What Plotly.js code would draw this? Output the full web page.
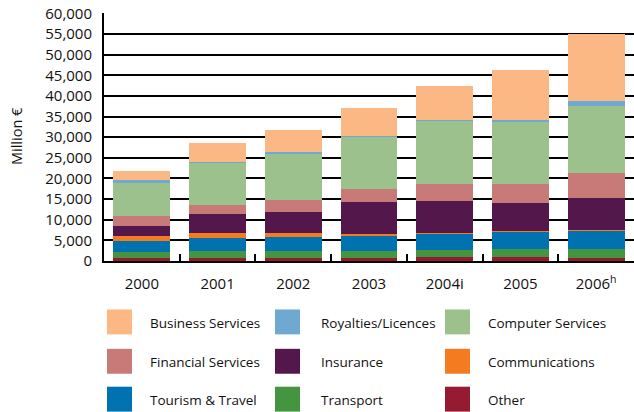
<!DOCTYPE html>
<html>
<head>
<meta charset="utf-8">
<script src="https://cdn.plot.ly/plotly-3.0.1.min.js"></script>
<style>body{margin:0;background:#fff}</style>
</head>
<body>
<div id="chart" style="width:634px;height:412px"></div>
<script>
var years = ["2000", "2001", "2002", "2003", "2004i", "2005", "2006<sup>h</sup>"];

// stacked bottom to top, million euro
var other      = [750, 750, 800, 750, 900, 900, 750];
var transport  = [1350, 1600, 1700, 1750, 1850, 2090, 2240];
var tourism    = [2800, 3130, 3220, 3450, 3690, 3930, 4260];
var comms      = [1050, 1220, 1130, 580, 330, 330, 320];
var insurance  = [2650, 4800, 5100, 7720, 7730, 6750, 7760];
var financial  = [2270, 2180, 2850, 3280, 4240, 4740, 5960];
var computer   = [8130, 9970, 11170, 12540, 15190, 15040, 16390];
var royalties  = [630, 250, 330, 230, 330, 480, 1040];
var business   = [2170, 4730, 5380, 6860, 8200, 11970, 16250];

var seriesNames = ["Other", "Transport", "Tourism & Travel", "Communications", "Insurance",
                   "Financial Services", "Computer Services", "Royalties/Licences", "Business Services"];
var seriesData = [other, transport, tourism, comms, insurance, financial, computer, royalties, business];
var colors = ["#961b32", "#43963f", "#0072b0", "#f47b20", "#53174b",
              "#c77a77", "#9dc18d", "#6fa8d0", "#fbb884"];

var font = "Open Sans, Noto Sans, sans-serif";

var traces = seriesNames.map(function (name, i) {
  return {
    type: "bar",
    name: name,
    x: years,
    y: seriesData[i],
    marker: {color: colors[i], line: {width: 0}},
    showlegend: false,
    hoverinfo: "name+y"
  };
});

// legend drawn by hand: 3 columns, big square swatches
var W = 634, H = 412, ml = 104, mr = 0, mt = 12.6, mb = 150.6;
var pw = W - ml - mr, ph = H - mt - mb;
function px(x) { return (x - ml) / pw; }
function py(y) { return (H - mb - y) / ph; }

var swatchX = [107, 275, 445];
var textX = [148, 319, 486];
var rowY = [322.5, 362, 400];
var shapes = [], annotations = [];
for (var k = 0; k < seriesNames.length; k++) {
  var idx = seriesNames.length - 1 - k;
  var c = k % 3, r = Math.floor(k / 3);
  shapes.push({
    type: "rect", xref: "paper", yref: "paper",
    x0: px(swatchX[c]), x1: px(swatchX[c] + 25),
    y0: py(rowY[r] - 12.5), y1: py(rowY[r] + 12.5),
    fillcolor: colors[idx], line: {width: 0}
  });
  annotations.push({
    xref: "paper", yref: "paper",
    x: px(textX[c]), y: py(rowY[r] + 1),
    xanchor: "left", yanchor: "middle",
    text: seriesNames[idx], showarrow: false,
    font: {family: font, size: 13.5, color: "#111"}
  });
}

// y axis title, placed by hand further left
annotations.push({
  xref: "paper", yref: "paper",
  x: px(16), y: py(136),
  xanchor: "center", yanchor: "middle",
  textangle: -90,
  text: "Million €", showarrow: false,
  font: {family: font, size: 14.5, color: "#111"}
});

var layout = {
  width: W, height: H,
  margin: {l: ml, r: mr, t: mt, b: mb},
  barmode: "stack",
  bargap: 0.25,
  paper_bgcolor: "#ffffff",
  plot_bgcolor: "#ffffff",
  font: {family: font, size: 14, color: "#111"},
  xaxis: {
    type: "category",
    showline: true, linecolor: "#000", linewidth: 2,
    ticks: "inside", tickson: "boundaries", ticklen: 7, tickwidth: 2, tickcolor: "#000",
    ticklabelstandoff: 8,
    tickfont: {family: font, size: 15, color: "#111"},
    showgrid: false
  },
  yaxis: {
    range: [0, 60100],
    tickvals: [0, 5000, 10000, 15000, 20000, 25000, 30000, 35000, 40000, 45000, 50000, 55000, 60000],
    tickformat: ",d",
    showline: true, linecolor: "#000", linewidth: 2,
    showgrid: true, gridcolor: "#000", gridwidth: 2,
    zeroline: false,
    ticks: "",
    ticklabelstandoff: 7,
    tickfont: {family: font, size: 15, color: "#111"}
  },
  shapes: shapes,
  annotations: annotations
};

Plotly.newPlot("chart", traces, layout, {displayModeBar: false, staticPlot: true});
</script>
</body>
</html>
